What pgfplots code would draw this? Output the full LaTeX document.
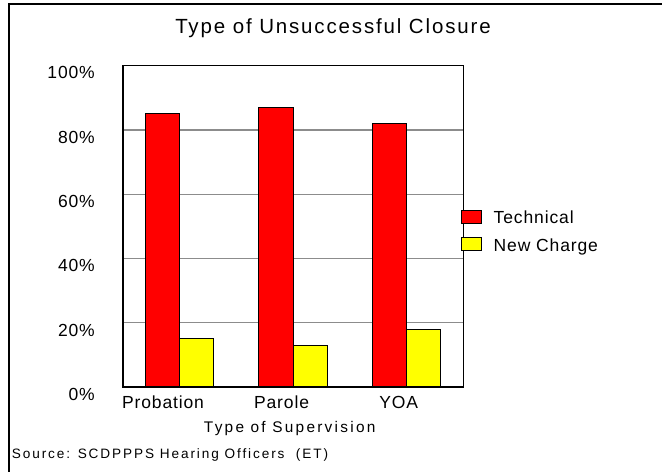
\documentclass[border=0pt]{standalone}
\usepackage{fontspec}
\setmainfont{Liberation Sans}
\newfontfamily\ttlfont{Liberation Sans}[LetterSpace=9]
\newfontfamily\axfont{Liberation Sans}[LetterSpace=14.7]
\newfontfamily\srcfont{Liberation Sans}[LetterSpace=14]
\newfontfamily\tickfont{Liberation Sans}[LetterSpace=5]
\usepackage{pgfplots}
\pgfplotsset{compat=1.18}
\definecolor{barred}{RGB}{255,0,0}
\definecolor{baryellow}{RGB}{255,255,0}
\begin{document}
\begin{tikzpicture}
\useasboundingbox (0,0) rectangle (662bp,472bp);
\fill[white] (0,0) rectangle (662bp,472bp);
\draw[line width=2bp] (9bp,0) -- (9bp,468bp) -- (662bp,468bp);
\node[anchor=base,inner sep=0pt] at (333bp,438bp) {\fontsize{20.5bp}{23bp}\ttlfont Type of Unsuccessful Closure};
\node[anchor=base,inner sep=0pt] at (289.7bp,39.3bp) {\fontsize{15.4bp}{18bp}\axfont Type of Supervision};
\node[anchor=base west,inner sep=0pt] at (11.7bp,13.7bp) {\fontsize{13.6bp}{16bp}\srcfont Source: SCDPPPS Hearing Officers\ \ (ET)};
\begin{axis}[
  at={(122.7bp,85bp)}, anchor=south west,
  scale only axis, width=340.6bp, height=321.3bp,
  xmin=-0.5, xmax=2.5, ymin=0, ymax=100,
  ybar=0pt, bar width=34.3bp,
  ytick={0,20,40,60,80,100},
  yticklabels={0\%,20\%,40\%,60\%,80\%,100\%},
  xtick={-0.145,0.899,1.931},
  xticklabels={Probation,Parole,YOA},
  major tick length=0pt,
  ymajorgrids, major grid style={draw=gray!90, line width=1.2bp},
  axis line style={line width=0.9bp},
  tick label style={font=\fontsize{17.5bp}{20bp}\tickfont, inner sep=0pt},
  yticklabel style={anchor=base east, xshift=-27.7bp, yshift=-13.3bp},
  xticklabel style={anchor=base, yshift=-22bp},
  legend style={draw=none, fill=none, inner sep=0pt, outer sep=0pt,
    at={(0.993,0.551)}, anchor=north west,
    font=\fontsize{17.5bp}{20bp}\tickfont,
    row sep=9.5bp,
    nodes={inner sep=0pt, text height=13bp, text depth=4bp},
    /tikz/every odd column/.append style={column sep=12.3bp}},
  legend cell align=left,
  legend image code/.code={\draw[#1,draw=black,line width=0.8bp] (0bp,-4bp) rectangle (19.7bp,9bp);},
  clip=false,
]
\addplot[fill=barred, draw=black, line width=0.9bp] coordinates {(0,85) (1,87) (2,82)};
\addplot[fill=baryellow, draw=black, line width=0.9bp] coordinates {(0,15) (1,13) (2,18)};
\legend{Technical,New Charge}
\draw[line width=2bp] (rel axis cs:0,1) -- (rel axis cs:0,0) -- (rel axis cs:1,0);
\end{axis}
\end{tikzpicture}
\end{document}
